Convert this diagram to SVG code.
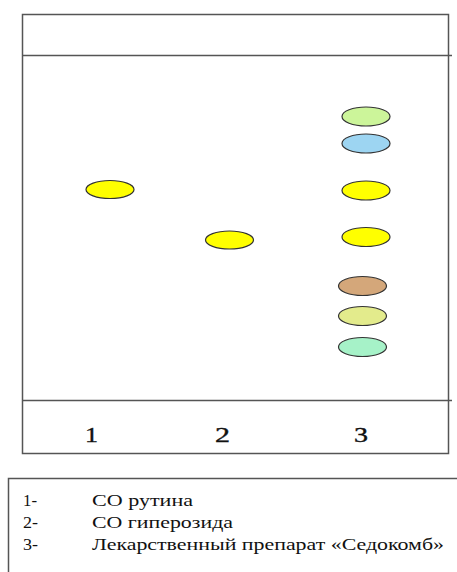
<svg xmlns="http://www.w3.org/2000/svg" width="457" height="572" viewBox="0 0 457 572">
<style>
.frame{fill:none;stroke:#555;stroke-width:1.5}
.spot{stroke:#333;stroke-width:1.2}
.lbl{font-family:'Liberation Serif',serif;font-size:22px;fill:#111;stroke:#111;stroke-width:0.4}
.leg{font-family:'Liberation Serif',serif;font-size:16.5px;fill:#111}
</style>
<rect width="457" height="572" fill="#fff"/>
<g id="plate">
<rect class="frame" x="22.5" y="14.5" width="426" height="439"/>
<line class="frame" x1="22" y1="55.5" x2="452" y2="55.5"/>
<line class="frame" x1="22" y1="400.5" x2="452" y2="400.5"/>
<text class="lbl" x="85" y="442" textLength="13" lengthAdjust="spacingAndGlyphs">1</text>
<text class="lbl" x="215" y="442" textLength="15" lengthAdjust="spacingAndGlyphs">2</text>
<text class="lbl" x="354" y="442" textLength="14" lengthAdjust="spacingAndGlyphs">3</text>
</g>
<g id="lane1"><ellipse class="spot" cx="110" cy="189.5" rx="24" ry="9" fill="#ffff00"/></g>
<g id="lane2"><ellipse class="spot" cx="229.5" cy="240" rx="24" ry="9" fill="#ffff00"/></g>
<g id="lane3">
<ellipse class="spot" cx="366" cy="116.5" rx="24" ry="9.5" fill="#ccf59a"/>
<ellipse class="spot" cx="366" cy="143.5" rx="24" ry="9.5" fill="#9dd5f2"/>
<ellipse class="spot" cx="366" cy="190.5" rx="24" ry="9.5" fill="#ffff00"/>
<ellipse class="spot" cx="366" cy="237" rx="24" ry="9.5" fill="#ffff00"/>
<ellipse class="spot" cx="362.5" cy="286" rx="24" ry="9.5" fill="#d4a77a"/>
<ellipse class="spot" cx="362.5" cy="316" rx="24" ry="9.5" fill="#e3eb8c"/>
<ellipse class="spot" cx="362.5" cy="347" rx="24" ry="9.5" fill="#a6f2c8"/>
</g>
<g id="legend">
<rect class="frame" x="8.5" y="478.5" width="460" height="110"/>
<text class="leg" x="23" y="506" textLength="14" lengthAdjust="spacingAndGlyphs">1-</text>
<text class="leg" x="92" y="506" textLength="101" lengthAdjust="spacingAndGlyphs">СО рутина</text>
<text class="leg" x="23" y="528" textLength="15" lengthAdjust="spacingAndGlyphs">2-</text>
<text class="leg" x="92" y="528" textLength="141" lengthAdjust="spacingAndGlyphs">СО гиперозида</text>
<text class="leg" x="23" y="550" textLength="15" lengthAdjust="spacingAndGlyphs">3-</text>
<text class="leg" x="92" y="550" textLength="352" lengthAdjust="spacingAndGlyphs">Лекарственный препарат «Седокомб»</text>
</g>
</svg>
